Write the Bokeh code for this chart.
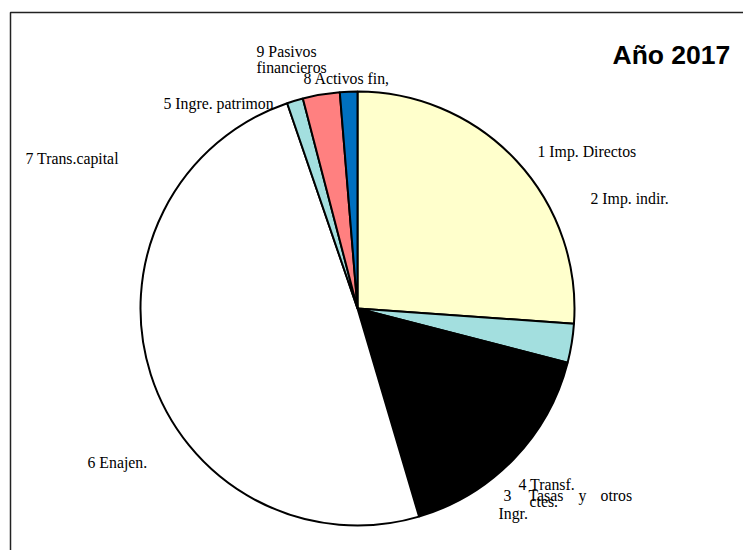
import math
from bokeh.plotting import figure
from bokeh.models import Range1d, ColumnDataSource
from bokeh.core.properties import value
from bokeh.embed import file_html
from bokeh.resources import INLINE

# ---- data ----
categories = ["1 Imp. Directos", "2 Imp. indir.", "3 Tasas y otros Ingr.", "4 Transf. ctes.",
              "5 Ingre. patrimon", "6 Enajen.", "7 Trans.capital", "8 Activos fin,",
              "9 Pasivos financieros"]
shares = [26.1, 2.9, 16.4, 49.3, 1.2, 2.75, 1.3, 0.0, 0.0]
colors = ["#FFFFCC", "#A3DFDF", "#000000", "#FFFFFF", "#A3DFDF", "#FF8080", "#0070C0",
          "#9999FF", "#993366"]
title_text = "Año 2017"

W, H = 743, 550

def px(x):
    return x

def py(y):
    return H - y

p = figure(width=W, height=H, output_backend="svg", toolbar_location=None,
           x_range=Range1d(0, W), y_range=Range1d(0, H), min_border=0)
p.axis.visible = False
p.grid.visible = False
p.outline_line_color = None
p.background_fill_color = "white"

# frame border (left and top visible in reference)
p.line([px(10), px(10), W + 5], [-5, py(12), py(12)], line_color="#222222", line_width=1.5)

# pie
total = sum(shares)
cx, cy, r = px(357), py(308), 217
starts, ends, cols = [], [], []
cum = 0.0
for s, c in zip(shares, colors):
    a0 = math.pi / 2 - 2 * math.pi * cum / total
    cum += s
    a1 = math.pi / 2 - 2 * math.pi * cum / total
    if s > 0:
        starts.append(a0)
        ends.append(a1)
        cols.append(c)
src = ColumnDataSource(dict(x=[cx] * len(starts), y=[cy] * len(starts),
                            start=starts, end=ends, color=cols))
p.wedge(x="x", y="y", radius=r, radius_units="screen", start_angle="start",
        end_angle="end", direction="clock", fill_color="color",
        line_color="black", line_width=2, source=src)

# labels (positions as placed in the reference)
label_pos = [
    ("9 Pasivos", 256, 51), ("financieros", 256, 67),
    ("8 Activos fin,", 303, 78),
    ("5 Ingre. patrimon", 163, 103),
    ("7 Trans.capital", 25, 158),
    ("1 Imp. Directos", 537, 151),
    ("2 Imp. indir.", 590, 198),
    ("6 Enajen.", 87, 462),
    ("4 Transf.", 518, 484), ("ctes.", 529, 501),
    ("3", 503, 495), ("Tasas", 528, 495), ("y", 578, 495), ("otros", 600, 495),
    ("Ingr.", 498, 513),
]
lsrc = ColumnDataSource(dict(x=[px(a[1]) for a in label_pos], y=[py(a[2]) for a in label_pos],
                             t=[a[0] for a in label_pos]))
p.text(x="x", y="y", text="t", source=lsrc, text_font=value("Liberation Serif"),
       text_font_size="15.8px", text_color="black", text_align="left",
       text_baseline="alphabetic")

p.text(x=[px(612)], y=[py(54)], text=[title_text], text_font=value("Liberation Sans"),
       text_font_size="26.5px", text_font_style="bold", text_color="black",
       text_align="left", text_baseline="alphabetic")

open("out.html", "w").write(file_html(p, INLINE))
